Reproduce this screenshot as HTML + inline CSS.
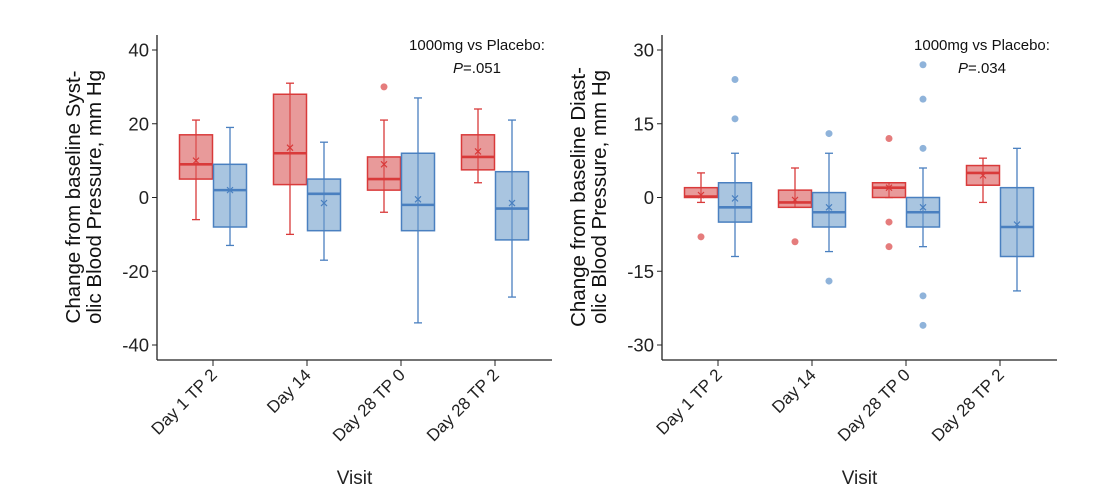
<!DOCTYPE html>
<html><head><meta charset="utf-8"><style>
body{margin:0;background:#fff;}
svg{display:block;font-family:"Liberation Sans",sans-serif;}
</style></head><body>
<svg id="s" width="1100" height="497" xmlns="http://www.w3.org/2000/svg"></svg>
<script>
const S=document.getElementById('s');let h='';
const R={s:'#d93a3a',f:'#e58f8f',o:'#e57c7c'},B={s:'#4a80c0',f:'#a0bfdd',o:'#8fb3da'};
function panel(ax,axEnd,scale,ticks,ticksX,data,title,pval,annX,tx1,tx2){
 const Y=v=>197.5-v*scale;
 h+=`<line x1="${ax}" y1="35" x2="${ax}" y2="360" stroke="#222" stroke-width="1.3"/>`;
 h+=`<line x1="${ax}" y1="360" x2="${axEnd}" y2="360" stroke="#222" stroke-width="1.3"/>`;
 ticks.forEach(t=>{h+=`<line x1="${ax-5}" y1="${Y(t)}" x2="${ax}" y2="${Y(t)}" stroke="#222"/><text x="${ax-8}" y="${Y(t)+6.5}" font-size="18.5" text-anchor="end" fill="#222">${t}</text>`;});
 const labs=['Day 1 TP 2','Day 14','Day 28 TP 0','Day 28 TP 2'];
 ticksX.forEach((x,i)=>{h+=`<line x1="${x}" y1="360" x2="${x}" y2="366" stroke="#222"/><text transform="translate(${x+5},${376}) rotate(-45)" font-size="17" text-anchor="end" fill="#222">${labs[i]}</text>`;});
 h+=`<text x="${(ax+axEnd)/2}" y="484" font-size="19" text-anchor="middle" fill="#222">Visit</text>`;
 h+=`<text transform="translate(${ax-77},197) rotate(-90)" font-size="20.5" text-anchor="middle" fill="#111">${tx1}</text>`;
 h+=`<text transform="translate(${ax-56},197) rotate(-90)" font-size="20.5" text-anchor="middle" fill="#111">${tx2}</text>`;
 h+=`<text x="${annX}" y="50" font-size="15" text-anchor="middle" fill="#111">1000mg vs Placebo:</text>`;
 h+=`<text x="${annX}" y="73" font-size="15" text-anchor="middle" fill="#111"><tspan font-style="italic">P</tspan>=${pval}</text>`;
 data.forEach((d,i)=>{[[d[0],R,-17],[d[1],B,17]].forEach(([v,c,off])=>{
  const cx=ticksX[i]+off,w=16.5;const [q1,q3,md,lo,hi,mn,outs]=v;
  h+=`<line x1="${cx}" y1="${Y(lo)}" x2="${cx}" y2="${Y(hi)}" stroke="${c.s}" stroke-width="1.3"/>`;
  h+=`<line x1="${cx-4}" y1="${Y(lo)}" x2="${cx+4}" y2="${Y(lo)}" stroke="${c.s}" stroke-width="1.3"/><line x1="${cx-4}" y1="${Y(hi)}" x2="${cx+4}" y2="${Y(hi)}" stroke="${c.s}" stroke-width="1.3"/>`;
  h+=`<rect x="${cx-w}" y="${Y(q3)}" width="${2*w}" height="${Y(q1)-Y(q3)}" fill="${c.f}" fill-opacity="0.9" stroke="${c.s}" stroke-width="1.5"/>`;
  h+=`<line x1="${cx}" y1="${Y(q1)}" x2="${cx}" y2="${Y(q3)}" stroke="${c.s}" stroke-width="1.3" opacity="0.7"/>`;
  h+=`<line x1="${cx-w}" y1="${Y(md)}" x2="${cx+w}" y2="${Y(md)}" stroke="${c.s}" stroke-width="2.6"/>`;
  const m=Y(mn);h+=`<path d="M${cx-3} ${m-3}L${cx+3} ${m+3}M${cx-3} ${m+3}L${cx+3} ${m-3}" stroke="${c.s}" stroke-width="1.2"/>`;
  (outs||[]).forEach(o=>{h+=`<circle cx="${cx}" cy="${Y(o)}" r="3.5" fill="${c.o}"/>`;});
 });});
}
panel(157,552,147.5/40,[40,20,0,-20,-40],[213,307,401,495],[
 [[5,17,9,-6,21,10],[-8,9,2,-13,19,2]],
 [[3.5,28,12,-10,31,13.5],[-9,5,1,-17,15,-1.5]],
 [[2,11,5,-4,21,9,[30]],[-9,12,-2,-34,27,-0.5]],
 [[7.5,17,11,4,24,12.5],[-11.5,7,-3,-27,21,-1.5]]
],'', '.051',477,'Change from baseline Syst-','olic Blood Pressure, mm Hg');
panel(662,1057,147.5/30,[30,15,0,-15,-30],[718,812,906,1000],[
 [[0,2,0.2,-1,5,0.5,[-8]],[-5,3,-2,-12,9,-0.2,[24,16]]],
 [[-2,1.5,-1,-2,6,-0.5,[-9]],[-6,1,-3,-11,9,-2,[13,-17]]],
 [[0,3,2,0,3,2,[12,-5,-10]],[-6,0,-3,-10,6,-2,[27,20,10,-20,-26]]],
 [[2.5,6.5,5,-1,8,4.5],[-12,2,-6,-19,10,-5.5]]
],'', '.034',982,'Change from baseline Diast-','olic Blood Pressure, mm Hg');
S.innerHTML=h;
</script>
</body></html>
